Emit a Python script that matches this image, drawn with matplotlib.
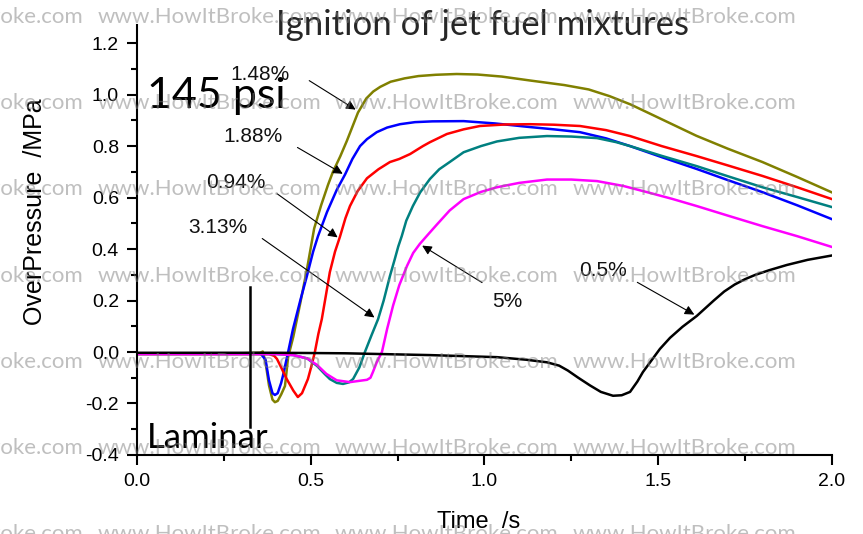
import matplotlib
matplotlib.use('Agg')
import matplotlib.pyplot as plt
from matplotlib.ticker import MultipleLocator, FormatStrFormatter

plt.rcParams['font.family'] = ['Liberation Sans', 'DejaVu Sans']
plt.rcParams['axes.unicode_minus'] = False

# 1.48 %
x_148 = [0, 0.30, 0.355, 0.362, 0.37, 0.38, 0.39, 0.397, 0.405, 0.415, 0.426, 0.435, 0.45, 0.47, 0.489,
         0.51, 0.53, 0.55, 0.564, 0.585, 0.604, 0.62, 0.636, 0.66, 0.68, 0.70, 0.73, 0.77, 0.81, 0.86,
         0.92, 0.98, 1.05, 1.13, 1.23, 1.30, 1.36, 1.42, 1.47, 1.54, 1.61, 1.70, 1.80, 1.90, 2.0]
y_148 = [-0.005, -0.005, -0.003, 0.002, -0.04, -0.13, -0.185, -0.195, -0.19, -0.165, -0.132, -0.02, 0.06, 0.19, 0.32,
         0.48, 0.57, 0.65, 0.70, 0.76, 0.82, 0.875, 0.93, 0.985, 1.012, 1.03, 1.05, 1.063, 1.072, 1.077,
         1.08, 1.078, 1.07, 1.055, 1.037, 1.02, 0.994, 0.962, 0.93, 0.885, 0.84, 0.79, 0.738, 0.68, 0.62]
# 1.88 %
x_188 = [0, 0.355, 0.37, 0.38, 0.39, 0.397, 0.405, 0.415, 0.42, 0.435, 0.449, 0.47, 0.489, 0.507, 0.521,
         0.547, 0.575, 0.599, 0.62, 0.642, 0.662, 0.69, 0.72, 0.757, 0.80, 0.85, 0.94, 1.03, 1.13, 1.2,
         1.275, 1.35, 1.419, 1.51, 1.611, 1.70, 1.80, 1.90, 2.0]
y_188 = [-0.005, -0.005, -0.03, -0.11, -0.16, -0.167, -0.16, -0.12, -0.093, 0.0, 0.089, 0.2, 0.295, 0.39, 0.45,
         0.544, 0.63, 0.69, 0.75, 0.80, 0.827, 0.854, 0.872, 0.885, 0.893, 0.896, 0.897, 0.888, 0.874, 0.865,
         0.854, 0.83, 0.80, 0.757, 0.711, 0.668, 0.621, 0.57, 0.516]
# 0.94 %
x_094 = [0, 0.38, 0.395, 0.403, 0.415, 0.431, 0.45, 0.463, 0.475, 0.492, 0.503, 0.512, 0.522, 0.532, 0.545,
         0.555, 0.57, 0.584, 0.60, 0.613, 0.635, 0.662, 0.695, 0.728, 0.755, 0.786, 0.805, 0.823, 0.843, 0.892,
         0.94, 0.987, 1.06, 1.131, 1.2, 1.275, 1.35, 1.419, 1.51, 1.611, 1.70, 1.80, 1.90, 2.0]
y_094 = [-0.008, -0.008, -0.015, -0.027, -0.06, -0.105, -0.15, -0.175, -0.16, -0.105, -0.05, 0.0, 0.07, 0.128, 0.23,
         0.31, 0.39, 0.447, 0.52, 0.567, 0.625, 0.675, 0.71, 0.738, 0.75, 0.769, 0.785, 0.80, 0.815, 0.847,
         0.865, 0.878, 0.884, 0.885, 0.883, 0.878, 0.862, 0.839, 0.80, 0.761, 0.725, 0.684, 0.64, 0.594]
# 3.13 %
x_313 = [0, 0.40, 0.45, 0.49, 0.518, 0.54, 0.555, 0.575, 0.593, 0.61, 0.622, 0.64, 0.656, 0.675, 0.694,
         0.71, 0.728, 0.742, 0.752, 0.762, 0.775, 0.794, 0.815, 0.843, 0.87, 0.90, 0.94, 0.99, 1.036, 1.10,
         1.18, 1.25, 1.324, 1.38, 1.419, 1.51, 1.611, 1.70, 1.80, 1.90, 2.0]
y_313 = [-0.008, -0.008, -0.012, -0.025, -0.054, -0.085, -0.105, -0.12, -0.124, -0.118, -0.105, -0.06, 0.0, 0.065, 0.128,
         0.2, 0.295, 0.361, 0.41, 0.45, 0.51, 0.567, 0.62, 0.672, 0.71, 0.738, 0.776, 0.80, 0.818, 0.832,
         0.839, 0.837, 0.831, 0.815, 0.80, 0.762, 0.722, 0.683, 0.64, 0.602, 0.563]
# 5 %
x_5 = [0, 0.40, 0.45, 0.49, 0.518, 0.545, 0.575, 0.613, 0.64, 0.662, 0.672, 0.679, 0.69, 0.705, 0.72,
       0.737, 0.755, 0.777, 0.795, 0.814, 0.84, 0.863, 0.90, 0.94, 0.99, 1.036, 1.10, 1.18, 1.25, 1.324,
       1.40, 1.468, 1.54, 1.611, 1.70, 1.80, 1.90, 2.0]
y_5 = [-0.008, -0.008, -0.012, -0.025, -0.05, -0.085, -0.11, -0.117, -0.112, -0.108, -0.1, -0.078, -0.04, 0.0, 0.09,
       0.18, 0.26, 0.334, 0.385, 0.42, 0.46, 0.495, 0.55, 0.594, 0.622, 0.64, 0.657, 0.67, 0.67, 0.664,
       0.645, 0.621, 0.595, 0.567, 0.53, 0.489, 0.45, 0.408]
# 0.5 %
x_05 = [0, 0.4, 0.6, 0.843, 1.036, 1.12, 1.18, 1.215, 1.24, 1.27, 1.304, 1.335, 1.37, 1.395, 1.419,
        1.44, 1.456, 1.505, 1.534, 1.57, 1.611, 1.66, 1.69, 1.72, 1.75, 1.78, 1.82, 1.87, 1.93, 2.0]
y_05 = [-0.003, -0.003, -0.005, -0.012, -0.02, -0.03, -0.04, -0.053, -0.072, -0.1, -0.13, -0.155, -0.17, -0.168, -0.155,
        -0.115, -0.078, 0.012, 0.055, 0.098, 0.14, 0.2, 0.235, 0.262, 0.283, 0.3, 0.318, 0.338, 0.358, 0.375]

# label, text position, arrow start, arrow tip
labels = ['1.48%', '1.88%', '0.94%', '3.13%', '5%', '0.5%']
label_xy = [(0.354, 1.08), (0.334, 0.839), (0.285, 0.66), (0.233, 0.485), (1.065, 0.198), (1.341, 0.315)]
arrow_start = [(0.489, 1.06), (0.455, 0.80), (0.397, 0.621), (0.354, 0.447), (1.0, 0.264), (1.433, 0.276)]
arrow_tip = [(0.636, 0.936), (0.599, 0.687), (0.584, 0.439), (0.69, 0.128), (0.814, 0.419), (1.611, 0.14)]

fig = plt.figure(figsize=(8.63, 5.34), dpi=100)
ax = fig.add_axes([0.1587, 0.148, 0.8053, 0.805])
ax.patch.set_alpha(0)

lw = 1.8
ax.plot(x_148, y_148, color='#808000', lw=lw)
ax.plot(x_188, y_188, color='#0000ff', lw=lw)
ax.plot(x_094, y_094, color='#ff0000', lw=lw)
ax.plot(x_313, y_313, color='#008080', lw=lw)
ax.plot(x_5, y_5, color='#ff00ff', lw=lw)
ax.plot(x_05, y_05, color='black', lw=lw)

for lab, pos, s, t in zip(labels, label_xy, arrow_start, arrow_tip):
    ax.text(pos[0], pos[1], lab, fontsize=15, ha='center', va='center', color='#111111')
    ax.annotate('', xy=t, xytext=s,
                arrowprops=dict(arrowstyle='-|>', color='black', lw=0.8, mutation_scale=14))

# laminar marker
ax.plot([0.325, 0.325], [-0.29, 0.252], color='black', lw=1.8)

ax.set_xlim(0, 2.0)
ax.set_ylim(-0.4, 1.27)
ax.xaxis.set_major_locator(MultipleLocator(0.5))
ax.xaxis.set_minor_locator(MultipleLocator(0.25))
ax.yaxis.set_major_locator(MultipleLocator(0.2))
ax.yaxis.set_minor_locator(MultipleLocator(0.1))
ax.xaxis.set_major_formatter(FormatStrFormatter('%.1f'))
ax.yaxis.set_major_formatter(FormatStrFormatter('%.1f'))
ax.spines['top'].set_visible(False)
ax.spines['right'].set_visible(False)
for sp in ['left', 'bottom']:
    ax.spines[sp].set_linewidth(1.5)
ax.tick_params(which='major', length=7, width=1.5, labelsize=14, direction='out', pad=6)
ax.tick_params(which='minor', length=4, width=1.5, direction='out')
ax.set_xlabel('Time  /s', fontsize=17)
ax.set_ylabel('OverPressure  /MPa', fontsize=18)
ax.xaxis.set_label_coords(0.491, -0.13)
ax.yaxis.set_label_coords(-0.13, 0.565)

fig.text(0.559, 0.953, 'Ignition of jet fuel mixtures', family='Lato', fontsize=25,
         color='#262626', ha='center', va='center')
fig.text(147 / 863, 1 - 96 / 534, '145 psi', family='Lato', fontsize=31, color='black',
         ha='left', va='center')
fig.text(147 / 863, 1 - 438 / 534, 'Laminar', family='Lato', fontsize=25, color='black',
         ha='left', va='center')

# watermark grid
for row in range(7):
    for col in range(4):
        fig.text((-140 + 237.5 * col) / 863, 1 - (17 + 86.2 * row) / 534, 'www.HowItBroke.com',
                 family='Lato', fontsize=16, color='#808080', alpha=0.5, ha='left', va='center',
                 zorder=10)

fig.savefig('out.png', dpi=100)
